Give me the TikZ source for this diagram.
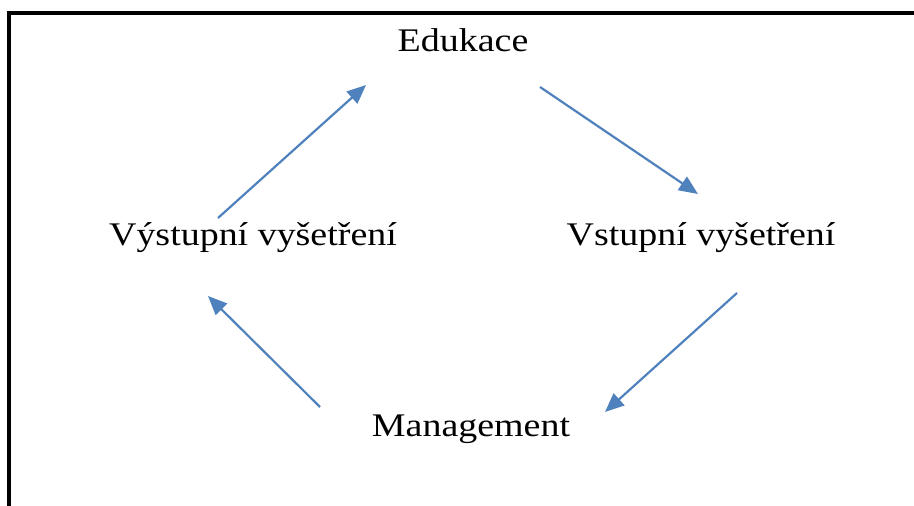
\documentclass[tikz,border=0pt]{standalone}
\usepackage{fontspec}
\setmainfont{Liberation Serif}
\usetikzlibrary{arrows.meta,positioning}
\definecolor{cycleblue}{RGB}{79,129,189}
\tikzstyle{line} = [draw, cycleblue, line width=1.1pt, -{Triangle[length=9.5pt,width=8pt]}]

\begin{document}
\begin{tikzpicture}[x=0.5pt,y=-0.5pt,
phase/.style={anchor=base,inner sep=0pt,font=\fontsize{16.5}{19}\selectfont,xscale=1.15}]
 \useasboundingbox (0,0) rectangle (914,506);
 \draw[line width=2pt] (9,506) |- (914,13);
 % the four steps of the cycle
 \node[phase] (edu) at (463,52) {Edukace};
 \node[phase] (vstup) at (701,246) {Vstupní vyšetření};
 \node[phase] (mgmt) at (471,437) {Management};
 \node[phase] (vystup) at (253,246) {Výstupní vyšetření};
 % arrow ends
 \path (vystup.base) ++(-35,-28) coordinate (vystup-out);
 \path (edu.base) ++(-97,33) coordinate (edu-in);
 \path (edu.base) ++(77,35) coordinate (edu-out);
 \path (vstup.base) ++(-3,-52) coordinate (vstup-in);
 \path (vstup.base) ++(36,47) coordinate (vstup-out);
 \path (mgmt.base) ++(134,-25) coordinate (mgmt-in);
 \path (mgmt.base) ++(-151,-30) coordinate (mgmt-out);
 \path (vystup.base) ++(-45,50) coordinate (vystup-in);
 \foreach \X/\Y in {vystup/edu,edu/vstup,vstup/mgmt,mgmt/vystup}
 \draw[line] (\X-out) -- (\Y-in);
\end{tikzpicture}
\end{document}
